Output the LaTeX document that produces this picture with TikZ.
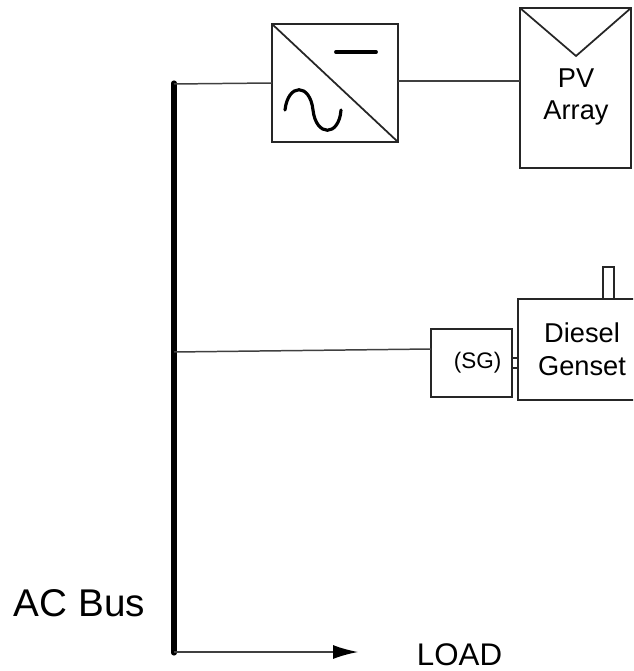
\documentclass[tikz,border=0pt]{standalone}
\usepackage{fontspec}
\setmainfont{Liberation Sans}
\usepackage{tikz}
\usetikzlibrary{arrows.meta}

\tikzset{
  wire/.style={draw=black!75, line width=0.85pt},
  unit/.style={draw=black!85, line width=1pt, inner sep=0pt, outer sep=0pt, align=center},
  label/.style={inner sep=0pt, outer sep=0pt},
}

\begin{document}
\begin{tikzpicture}[x=0.02cm, y=-0.02cm]

\useasboundingbox (0,0) rectangle (633,671);
\clip (0,0) rectangle (633,671);

\node[unit, minimum width=2.52cm, minimum height=2.36cm] (Inverter) at (335,83) {};
\node[unit, minimum width=2.22cm, minimum height=3.2cm] (PvArray) at (575.5,88) {};
\node[unit, minimum width=1.62cm, minimum height=1.36cm] (Generator) at (471.5,363) {};
\node[unit, minimum width=2.56cm, minimum height=2.02cm, font=\fontsize{15.5}{18.5}\selectfont] (Genset) at (582,349.5) {Diesel\\Genset};
\node[unit, minimum width=0.22cm, minimum height=0.64cm] (Stack) at (608.5,283) {};
\node[unit, minimum width=0.12cm, minimum height=0.2cm] (Shaft) at (515,363) {};

\coordinate (BusTop) at (174,83);
\coordinate (BusInv) at (174,84);
\coordinate (BusGen) at (174,352);
\coordinate (BusEnd) at (174,653);
\coordinate (BusLoad) at (174,652);
\coordinate (LoadEnd) at (358,652);
\coordinate (PvTip) at (576,56);

\draw[line width=2.9pt, line cap=round] (BusTop) -- (BusEnd);
\draw[wire] (BusInv) -- (Inverter.west);
\draw[wire] (Inverter.east |- 0,81) -- (PvArray.west |- 0,81);
\draw[wire] (BusGen) -- (Generator.west |- 0,349);
\draw[wire, -{Latex[length=0.5cm, width=0.28cm, color=black]}] (BusLoad) -- (LoadEnd);

% converter symbols
\draw[unit] (Inverter.north west) -- (Inverter.south east);
\draw[line width=2.2pt, line cap=round] (336,52) -- (376,52);
\draw[line width=1.8pt, line cap=round] (285,110) .. controls (288,83) and (310,83) .. (313,110)
  .. controls (316,137) and (339,137) .. (341,110);

\draw[unit] (PvArray.north west) -- (PvTip) -- (PvArray.north east);

\node[label, font=\fontsize{15.5}{18.5}\selectfont, align=center] (PvText) at (576,97) {PV\\Array};
\node[label, font=\fontsize{12.8}{15}\selectfont] (SgText) at (477.5,363) {(SG)};
\node[label, font=\fontsize{22}{26}\selectfont] (BusText) at (79.5,603) {AC Bus};
\node[label, font=\fontsize{17.8}{21}\selectfont] (LoadText) at (459.5,655) {LOAD};

\end{tikzpicture}
\end{document}
